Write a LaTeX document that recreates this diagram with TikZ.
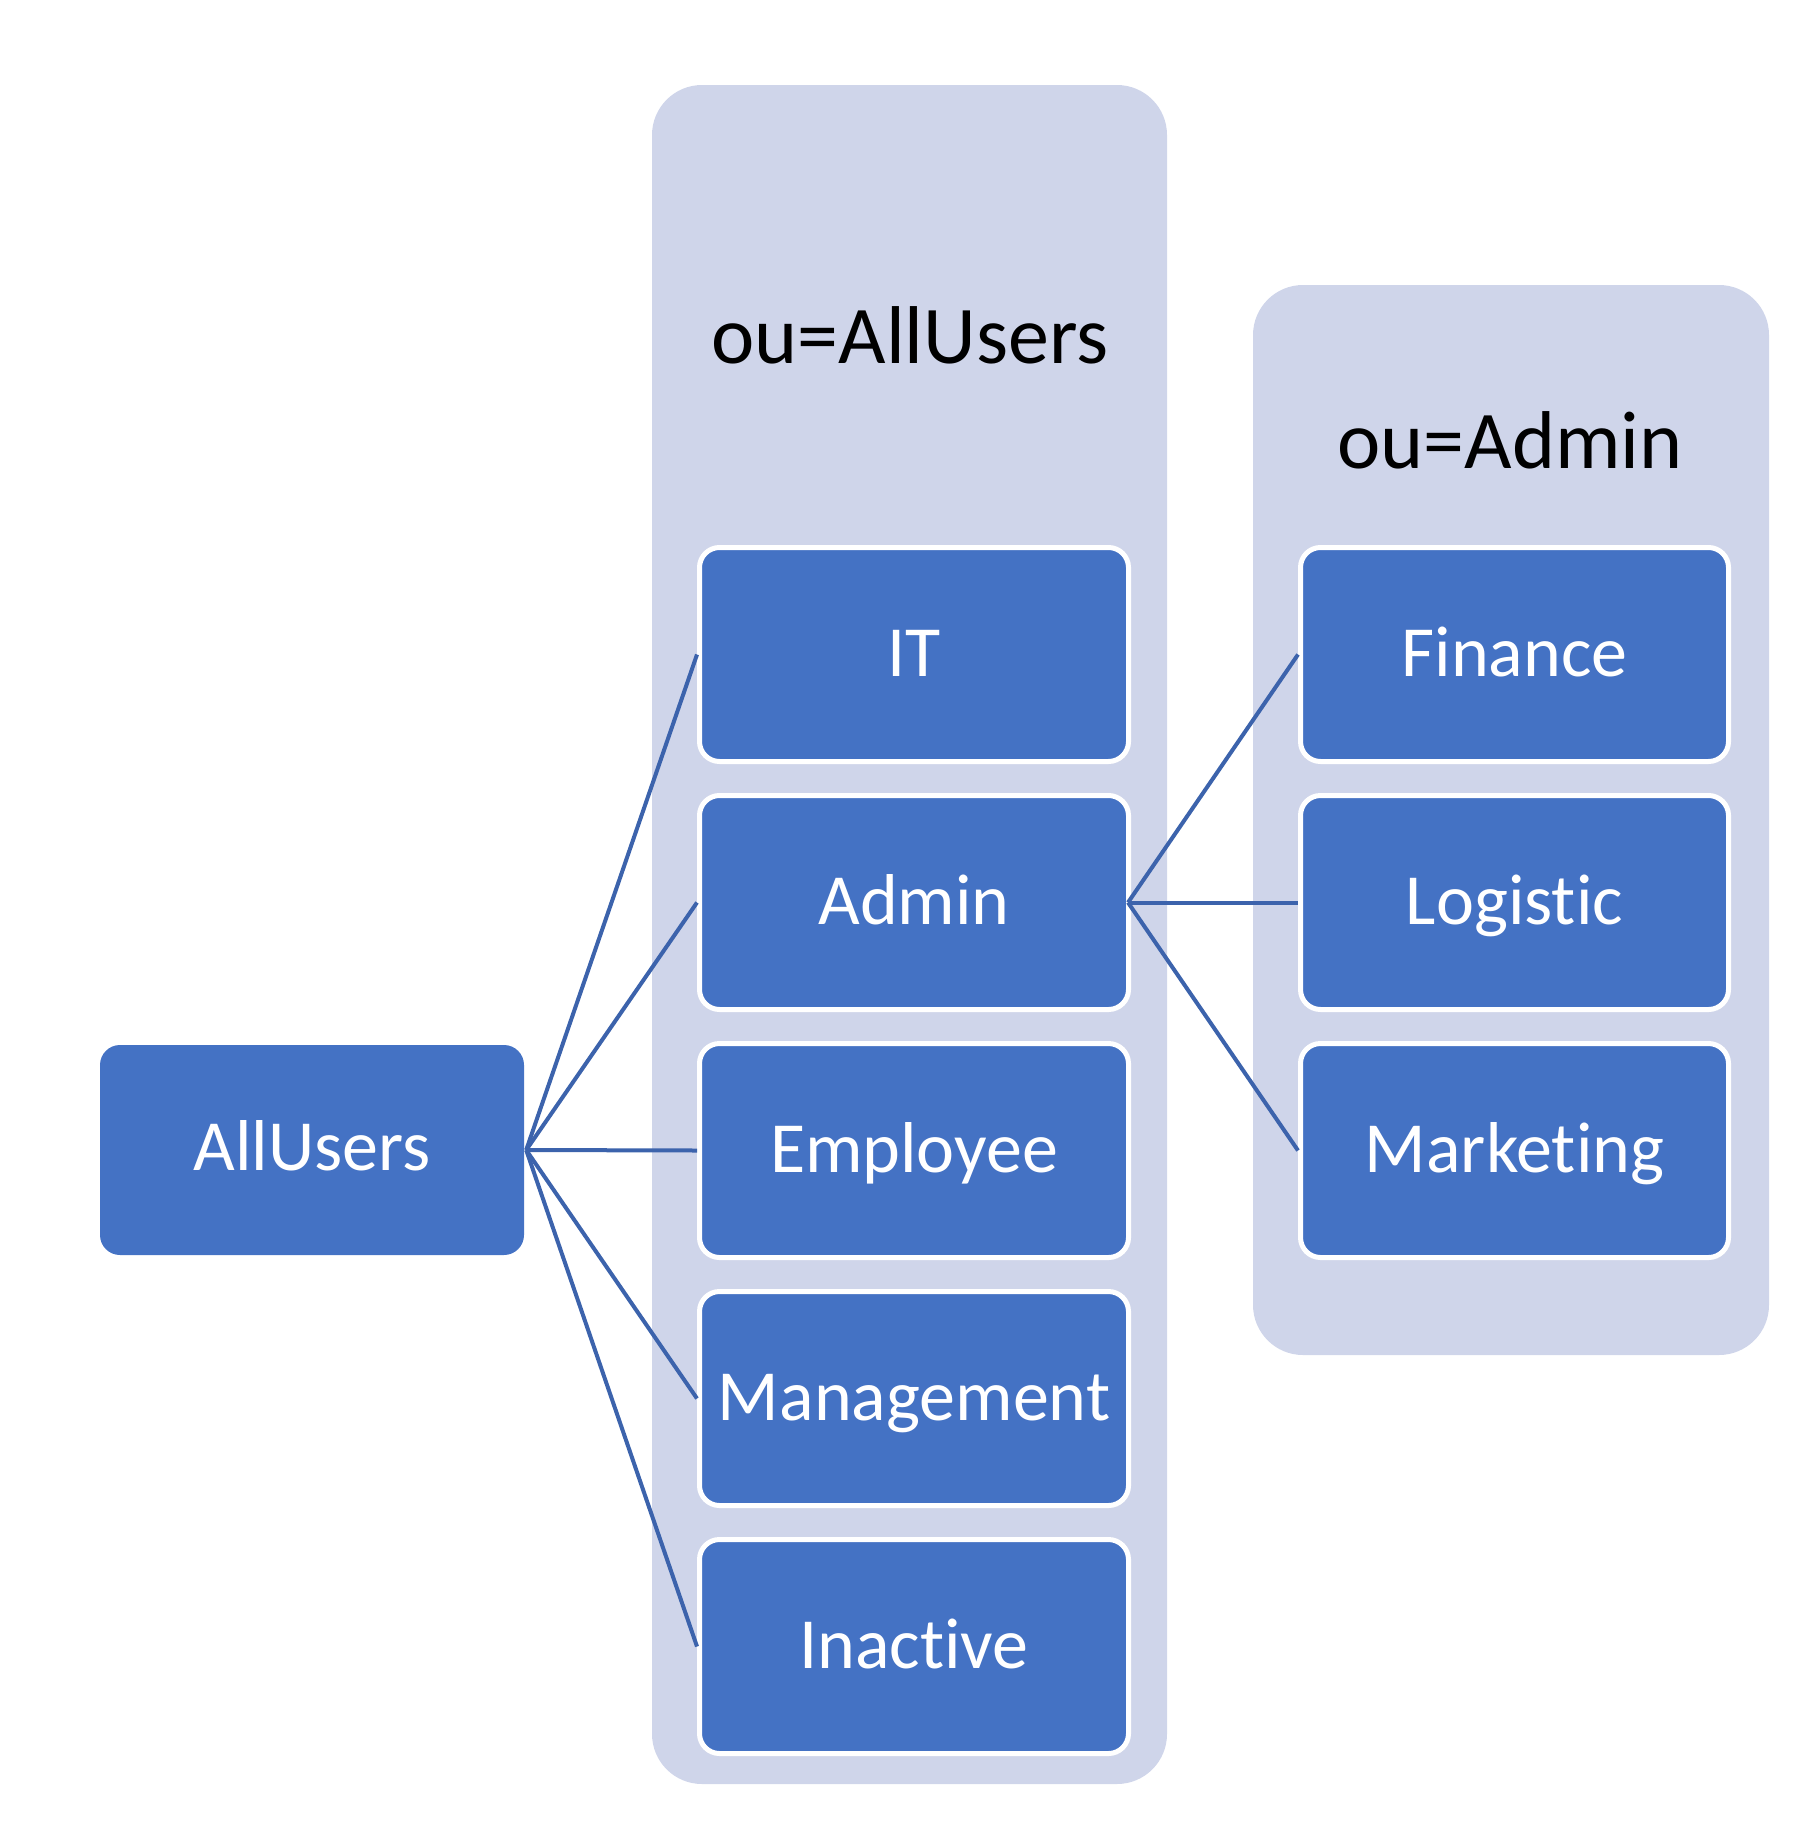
\documentclass[tikz,border=0pt]{standalone}
\usepackage{fontspec}
\setmainfont{Carlito}[Ligatures={NoCommon,NoRequired,NoContextual}]
\definecolor{contfill}{HTML}{CFD5EA}
\definecolor{boxfill}{HTML}{4472C4}
\definecolor{linkcol}{HTML}{3C63AC}
\begin{document}
\begin{tikzpicture}[x=1pt,y=-1pt,
  container/.style={fill=contfill, draw=none, rounded corners=50pt, inner sep=0pt},
  ubox/.style={fill=boxfill, draw=white, line width=5pt, rounded corners=20pt,
    minimum width=429pt, minimum height=214pt, inner sep=0pt,
    text=white, font=\fontsize{72}{80}\selectfont, text height=44pt, text depth=0pt},
  rootbox/.style={fill=boxfill, draw=none, rounded corners=20pt,
    minimum width=424pt, minimum height=210pt, inner sep=0pt,
    text=white, font=\fontsize{72}{80}\selectfont, text height=40pt, text depth=0pt},
  title/.style={anchor=base, inner sep=0pt, text=black, font=\fontsize{82}{90}\selectfont},
  link/.style={draw=linkcol, line width=4pt}]
\useasboundingbox (0,0) rectangle (1792,1828);
% containers
\node[container, minimum width=515pt, minimum height=1699pt] (c1) at (909.5,934.5) {};
\node[container, minimum width=516pt, minimum height=1070pt] (c2) at (1511,820) {};
% titles
\node[title] (t1) at (910,363) {ou=AllUsers};
\node[title] (t2) at (1510,468) {ou=Admin};
% root
\node[rootbox] (au) at (312,1150) {AllUsers};
% column 1
\node[ubox] (it)   at (914,654.5)  {IT};
\node[ubox] (adm)  at (914,902.5)  {Admin};
\node[ubox] (emp)  at (914,1150.5) {Employee};
\node[ubox] (mgt)  at (914,1398.5) {Management};
\node[ubox] (ina)  at (914,1646.5) {Inactive};
% column 2
\node[ubox, minimum width=428pt] (fin) at (1514.5,654.5) {Finance};
\node[ubox, minimum width=428pt] (log) at (1514.5,902.5) {Logistic};
\node[ubox, minimum width=428pt] (mkt) at (1514.5,1150.5) {Marketing};
% connectors
\coordinate (hub) at ([xshift=2pt]au.east);
\foreach \t in {it,adm,emp,mgt,ina} \draw[link] (hub) -- (\t.west);
\coordinate (hub2) at ([xshift=-3pt]adm.east);
\foreach \t in {fin,log,mkt} \draw[link] (hub2) -- (\t.west);
\end{tikzpicture}
\end{document}
